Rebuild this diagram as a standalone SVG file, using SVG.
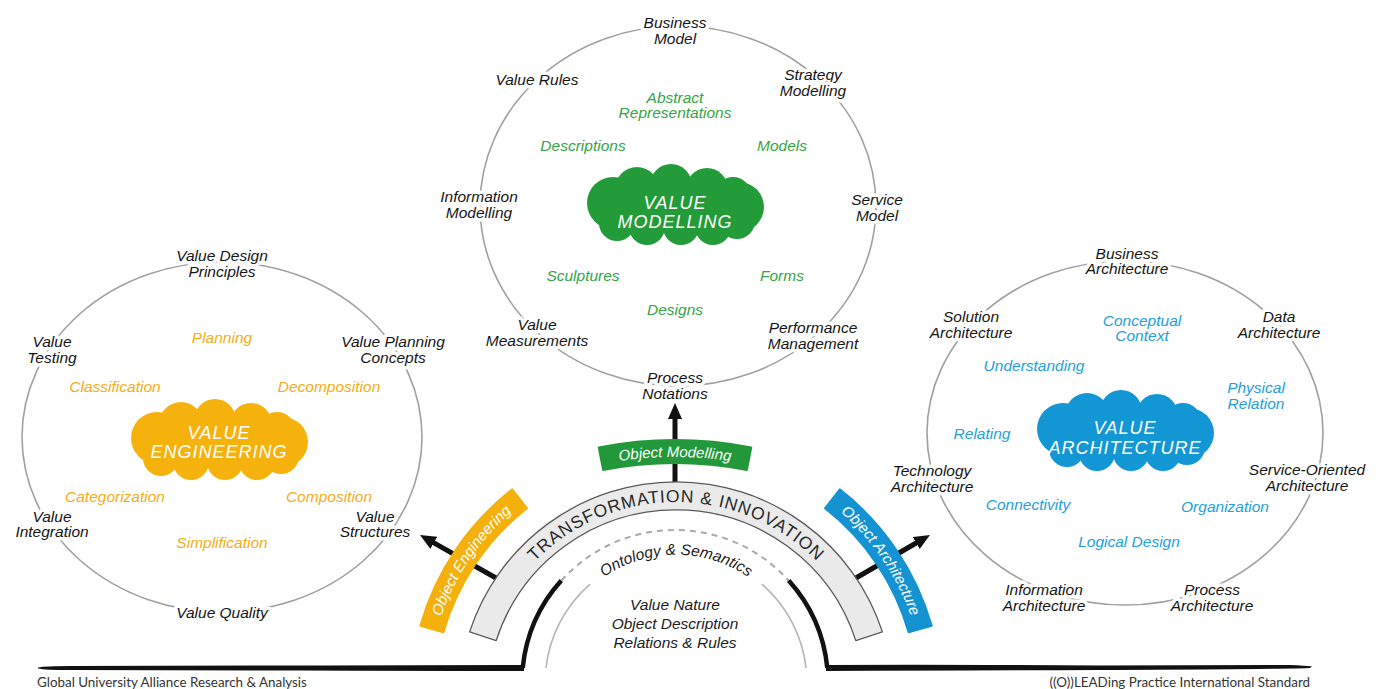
<svg xmlns="http://www.w3.org/2000/svg" xmlns:xlink="http://www.w3.org/1999/xlink" width="1390" height="689" viewBox="0 0 1390 689">
<style>
.ring{fill:none;stroke:#a0a0a0;stroke-width:1.6}
.lbl{font-family:"Liberation Sans",Arial,sans-serif;font-size:15.5px;font-style:italic;fill:#151515;text-anchor:middle;paint-order:stroke;stroke:#fff;stroke-width:7px;stroke-linejoin:round}
.g{font-family:"Liberation Sans",Arial,sans-serif;font-size:15.5px;font-style:italic;fill:#35a444;text-anchor:middle}
.o{font-family:"Liberation Sans",Arial,sans-serif;font-size:15.5px;font-style:italic;fill:#f3ad16;text-anchor:middle}
.b{font-family:"Liberation Sans",Arial,sans-serif;font-size:15.5px;font-style:italic;fill:#239fdb;text-anchor:middle}
.ct{font-family:"Liberation Sans",Arial,sans-serif;font-size:18px;font-style:italic;fill:#fff;text-anchor:middle;letter-spacing:1px}
.bt{font-family:"Liberation Sans",Arial,sans-serif;font-size:15px;font-style:italic;fill:#fff;text-anchor:middle}
.dark{font-family:"Liberation Sans",Arial,sans-serif;font-size:15.5px;font-style:italic;fill:#1c1c1c;text-anchor:middle}
.foot{font-family:Lato,"Liberation Sans",sans-serif;font-size:13.4px;fill:#333}
.pole{fill:none;stroke:#111;stroke-width:5;stroke-linecap:round}
</style>
<defs>
<g id="cloudShape">
<ellipse cx="0" cy="2" rx="78" ry="26"/>
<circle cx="-62" cy="-2" r="26"/>
<circle cx="64" cy="2" r="25"/>
<circle cx="-38" cy="-16" r="22"/>
<circle cx="-4" cy="-20" r="21"/>
<circle cx="32" cy="-16" r="21"/>
<circle cx="58" cy="-10" r="18"/>
<circle cx="-58" cy="18" r="18"/>
<circle cx="-28" cy="22" r="18"/>
<circle cx="6" cy="22" r="18"/>
<circle cx="38" cy="22" r="18"/>
<circle cx="62" cy="16" r="18"/>
</g>
<marker id="ah" viewBox="0 0 16 14" refX="4" refY="7" markerWidth="16" markerHeight="14" markerUnits="userSpaceOnUse" orient="auto">
<path d="M0,0 L16,7 L0,14 Z" fill="#111"/>
</marker>
<path id="tpMain" d="M 482 664.8 A 197 197 0 0 1 870 664.8"/>
<path id="tpOnt" d="M 549.9 660.8 A 128 128 0 0 1 802.1 660.8"/>
<path id="tpEng" d="M 432.4 647.2 A 249 249 0 0 1 536.8 492.6"/>
<path id="tpArc" d="M 815.2 492.6 A 249 249 0 0 1 919.6 647.2"/>
<path id="tpMod" d="M 525.4 487.4 A 383 383 0 0 1 824.6 487.4"/>
</defs>

<rect width="1390" height="689" fill="#fff"/>

<!-- connectors -->
<g id="connectors">
<path class="pole" d="M675 484 L675 415" marker-end="url(#ah)"/>
<path class="pole" d="M496 578 L430.4 540.9" marker-end="url(#ah)"/>
<path class="pole" d="M856 578 L919.6 541" marker-end="url(#ah)"/>
</g>

<!-- ground and arch -->
<g id="foundation">
<path d="M38 667.5 Q45 666 70 666 L300 665.5 Q420 665 520 665 L524 665 L524 671 Q420 671 300 670.5 L70 670 Q45 670 38 668.5 Z" fill="#111"/>
<path d="M826 665 Q950 664.5 1100 665.5 L1290 665 Q1305 665.5 1312 666.5 L1310 668 Q1290 669 1100 670 Q950 670.5 826 671 Z" fill="#111"/>
<path d="M 522.7 668 A 153 153 0 0 1 561.3 580.6" fill="none" stroke="#111" stroke-width="4.5"/>
<path d="M 561.3 580.6 A 153 153 0 0 1 788.7 580.6" fill="none" stroke="#aaa" stroke-width="2" stroke-dasharray="6 5"/>
<path d="M 788.7 580.6 A 153 153 0 0 1 827.3 668" fill="none" stroke="#111" stroke-width="4.5"/>
<path d="M 545.9 668 A 131 131 0 0 1 590.1 584.1" fill="none" stroke="#b5b5b5" stroke-width="1.6"/>
<path d="M 761.9 584.1 A 131 131 0 0 1 806.1 668" fill="none" stroke="#b5b5b5" stroke-width="1.6"/>
<text class="dark" font-size="15"><textPath href="#tpOnt" startOffset="50%">Ontology &amp; Semantics</textPath></text>
<text class="dark" x="675" y="610">Value Nature</text>
<text class="dark" x="675" y="629">Object Description</text>
<text class="dark" x="675" y="648">Relations &amp; Rules</text>
</g>

<!-- transformation band -->
<g id="transformation">
<path d="M 469.6 631.9 A 217 217 0 0 1 882.4 631.9 L 855.8 640.6 A 189 189 0 0 0 496.2 640.6 Z" fill="#e9eae9" stroke="#5a5a5a" stroke-width="1.3" stroke-linejoin="round"/>
<text font-family="Liberation Sans, Arial, sans-serif" font-size="17.5" letter-spacing="0.9" fill="#2a2a2a" text-anchor="middle"><textPath href="#tpMain" startOffset="50%">TRANSFORMATION &amp; INNOVATION</textPath></text>
</g>

<g id="object-engineering">
<path d="M 420.3 625.7 A 266 266 0 0 1 512.2 489.4 L 527.0 508.3 A 242 242 0 0 0 443.4 632.3 Z" fill="#f4b00c" stroke="#f4b00c" stroke-width="2" stroke-linejoin="round"/>
<text class="bt"><textPath href="#tpEng" startOffset="50%">Object Engineering</textPath></text>
</g>

<g id="object-architecture">
<path d="M 839.8 489.4 A 266 266 0 0 1 931.7 625.7 L 908.6 632.3 A 242 242 0 0 0 825.0 508.3 Z" fill="#1492d1" stroke="#1492d1" stroke-width="2" stroke-linejoin="round"/>
<text class="bt"><textPath href="#tpArc" startOffset="50%">Object Architecture</textPath></text>
</g>

<g id="object-modelling">
<path d="M 598.7 447.4 A 400 400 0 0 1 751.3 447.4 L 746.9 469.9 A 377 377 0 0 0 603.1 469.9 Z" fill="#22983a" stroke="#22983a" stroke-width="2" stroke-linejoin="round"/>
<text class="bt"><textPath href="#tpMod" startOffset="50%">Object Modelling</textPath></text>
</g>

<!-- Value Modelling -->
<g id="value-modelling">
<ellipse class="ring" cx="678" cy="206" rx="198" ry="180"/>
<use href="#cloudShape" x="675" y="205" fill="#239b38"/>
<text class="ct" x="675" y="208.5">VALUE</text>
<text class="ct" x="675" y="227.5">MODELLING</text>
<g id="vm-business-model"><text class="lbl" x="675" y="28"><tspan x="675">Business</tspan><tspan x="675" dy="16">Model</tspan></text></g>
<g id="vm-value-rules"><text class="lbl" x="537" y="85">Value Rules</text></g>
<g id="vm-strategy"><text class="lbl" x="813" y="80"><tspan x="813">Strategy</tspan><tspan x="813" dy="16">Modelling</tspan></text></g>
<g id="vm-information"><text class="lbl" x="479" y="202"><tspan x="479">Information</tspan><tspan x="479" dy="16">Modelling</tspan></text></g>
<g id="vm-service"><text class="lbl" x="877" y="205"><tspan x="877">Service</tspan><tspan x="877" dy="16">Model</tspan></text></g>
<g id="vm-measurements"><text class="lbl" x="537" y="330"><tspan x="537">Value</tspan><tspan x="537" dy="16">Measurements</tspan></text></g>
<g id="vm-performance"><text class="lbl" x="813" y="333"><tspan x="813">Performance</tspan><tspan x="813" dy="16">Management</tspan></text></g>
<g id="vm-process"><text class="lbl" x="675" y="383"><tspan x="675">Process</tspan><tspan x="675" dy="16">Notations</tspan></text></g>
<text class="g" x="675" y="103"><tspan x="675">Abstract</tspan><tspan x="675" dy="15">Representations</tspan></text>
<text class="g" x="583" y="151">Descriptions</text>
<text class="g" x="782" y="151">Models</text>
<text class="g" x="583" y="281">Sculptures</text>
<text class="g" x="782" y="281">Forms</text>
<text class="g" x="675" y="315">Designs</text>
</g>

<!-- Value Engineering -->
<g id="value-engineering">
<ellipse class="ring" cx="222" cy="437" rx="200" ry="175"/>
<use href="#cloudShape" x="219" y="440" fill="#f5b20d"/>
<text class="ct" x="219" y="438.5">VALUE</text>
<text class="ct" x="219" y="457.5">ENGINEERING</text>
<g id="ve-design"><text class="lbl" x="222" y="261"><tspan x="222">Value Design</tspan><tspan x="222" dy="16">Principles</tspan></text></g>
<g id="ve-testing"><text class="lbl" x="52" y="347"><tspan x="52">Value</tspan><tspan x="52" dy="16">Testing</tspan></text></g>
<g id="ve-planning"><text class="lbl" x="393" y="347"><tspan x="393">Value Planning</tspan><tspan x="393" dy="16">Concepts</tspan></text></g>
<g id="ve-integration"><text class="lbl" x="52" y="522"><tspan x="52">Value</tspan><tspan x="52" dy="15">Integration</tspan></text></g>
<g id="ve-structures"><text class="lbl" x="375" y="522"><tspan x="375">Value</tspan><tspan x="375" dy="15">Structures</tspan></text></g>
<g id="ve-quality"><text class="lbl" x="222" y="618">Value Quality</text></g>
<text class="o" x="222" y="343">Planning</text>
<text class="o" x="115" y="392">Classification</text>
<text class="o" x="329" y="392">Decomposition</text>
<text class="o" x="115" y="502">Categorization</text>
<text class="o" x="329" y="502">Composition</text>
<text class="o" x="222" y="548">Simplification</text>
</g>

<!-- Value Architecture -->
<g id="value-architecture">
<ellipse class="ring" cx="1125" cy="433" rx="198" ry="172"/>
<use href="#cloudShape" x="1125" y="431" fill="#1396d4"/>
<text class="ct" x="1125" y="433.5">VALUE</text>
<text class="ct" x="1125" y="453.5">ARCHITECTURE</text>
<g id="va-business"><text class="lbl" x="1127" y="259"><tspan x="1127">Business</tspan><tspan x="1127" dy="15">Architecture</tspan></text></g>
<g id="va-solution"><text class="lbl" x="971" y="322"><tspan x="971">Solution</tspan><tspan x="971" dy="16">Architecture</tspan></text></g>
<g id="va-data"><text class="lbl" x="1279" y="322"><tspan x="1279">Data</tspan><tspan x="1279" dy="16">Architecture</tspan></text></g>
<g id="va-technology"><text class="lbl" x="932" y="476"><tspan x="932">Technology</tspan><tspan x="932" dy="16">Architecture</tspan></text></g>
<g id="va-soa"><text class="lbl" x="1307" y="475"><tspan x="1307">Service-Oriented</tspan><tspan x="1307" dy="16">Architecture</tspan></text></g>
<g id="va-information"><text class="lbl" x="1044" y="595"><tspan x="1044">Information</tspan><tspan x="1044" dy="16">Architecture</tspan></text></g>
<g id="va-process"><text class="lbl" x="1212" y="595"><tspan x="1212">Process</tspan><tspan x="1212" dy="16">Architecture</tspan></text></g>
<text class="b" x="1142" y="326"><tspan x="1142">Conceptual</tspan><tspan x="1142" dy="15">Context</tspan></text>
<text class="b" x="1034" y="371">Understanding</text>
<text class="b" x="1256" y="393"><tspan x="1256">Physical</tspan><tspan x="1256" dy="16">Relation</tspan></text>
<text class="b" x="982" y="439">Relating</text>
<text class="b" x="1028" y="510">Connectivity</text>
<text class="b" x="1225" y="512">Organization</text>
<text class="b" x="1129" y="547">Logical Design</text>
</g>

<g id="footer">
<text class="foot" x="37" y="687">Global University Alliance Research &amp; Analysis</text>
<text class="foot" x="1310" y="687" text-anchor="end">((O))LEADing Practice International Standard</text>
</g>
</svg>
